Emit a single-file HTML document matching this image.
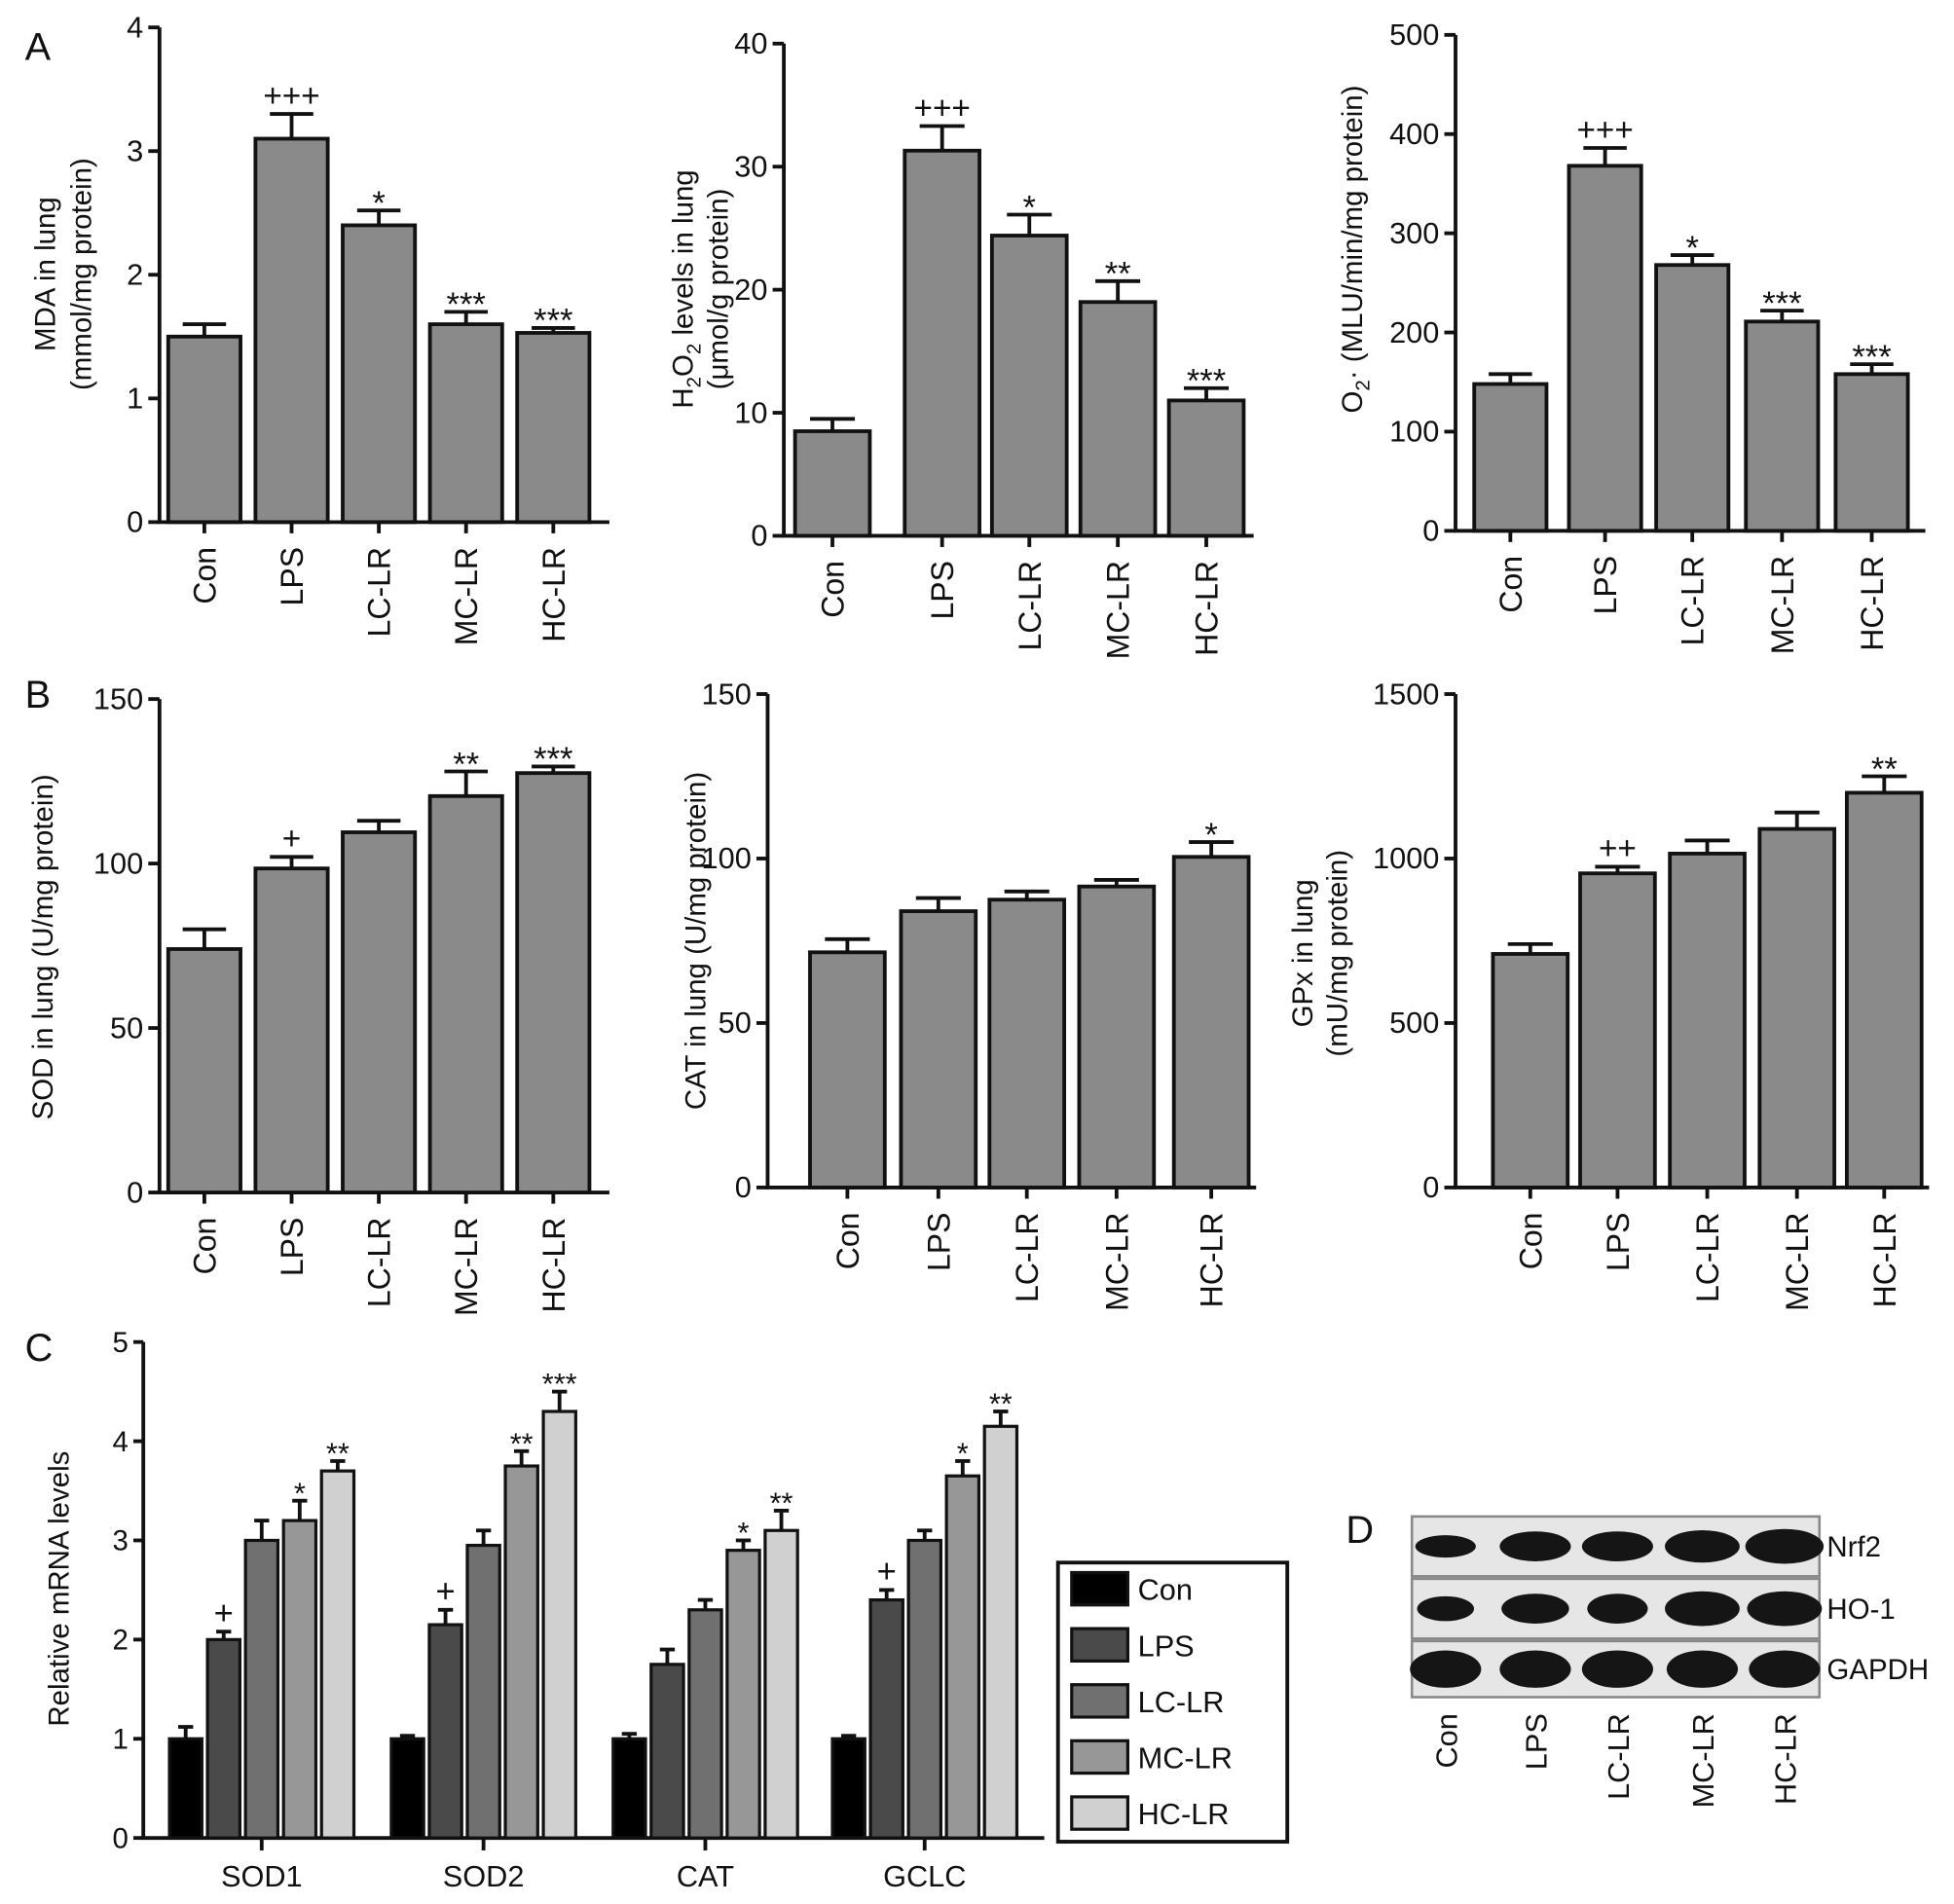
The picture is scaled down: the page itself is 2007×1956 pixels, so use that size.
<!DOCTYPE html>
<html><head><meta charset="utf-8"><style>
html,body{margin:0;padding:0;background:#fff}
svg{display:block}
text{font-family:"Liberation Sans",Arial,sans-serif;fill:#111}
</style></head><body>
<svg id="fig" width="2007" height="1956" viewBox="0 0 1568 1528" preserveAspectRatio="none" xmlns="http://www.w3.org/2000/svg">
<text x="20" y="48" font-size="31">A</text>
<text x="20" y="568" font-size="31">B</text>
<text x="20" y="1092" font-size="31">C</text>
<text x="1080" y="1238" font-size="31">D</text>
</svg>
<script>
const groups = ["Con","LPS","LC-LR","MC-LR","HC-LR"];
const mdaVals = [1.5,3.1,2.4,1.6,1.53];
const mdaErr = [0.1,0.2,0.12,0.1,0.04];
const mdaSig = ["","+++","*","***","***"];
const h2o2Vals = [8.5,31.3,24.4,19,11];
const h2o2Err = [1,2,1.7,1.7,1];
const h2o2Sig = ["","+++","*","**","***"];
const o2Vals = [148,368,268,211,158];
const o2Err = [10,18,10,11,10];
const o2Sig = ["","+++","*","***","***"];
const sodVals = [74,98.5,109.5,120.5,127.5];
const sodErr = [6,3.5,3.5,7.5,2];
const sodSig = ["","+","","**","***"];
const catVals = [71.5,84,87.5,91.5,100.5];
const catErr = [4,4,2.5,2,4.5];
const catSig = ["","","","","*"];
const gpxVals = [710,955,1015,1090,1200];
const gpxErr = [30,20,40,50,50];
const gpxSig = ["","++","","","**"];
const genes = ["SOD1","SOD2","CAT","GCLC"];
const mrnaCon = [1,1,1,1];
const mrnaLps = [2,2.15,1.75,2.4];
const mrnaLc = [3,2.95,2.3,3];
const mrnaMc = [3.2,3.75,2.9,3.65];
const mrnaHc = [3.7,4.3,3.1,4.15];
const mrnaErrCon = [0.12,0.03,0.05,0.03];
const mrnaErrLps = [0.08,0.15,0.15,0.1];
const mrnaErrLc = [0.2,0.15,0.1,0.1];
const mrnaErrMc = [0.2,0.15,0.1,0.15];
const mrnaErrHc = [0.1,0.2,0.2,0.15];
const mrnaSigLps = ["+","+","","+"];
const mrnaSigMc = ["*","**","*","*"];
const mrnaSigHc = ["**","***","**","**"];
const mrnaTicks = [0,1,2,3,4,5];

const NS="http://www.w3.org/2000/svg";
const svg=document.getElementById('fig');
function mk(tag,attrs,parent){const e=document.createElementNS(NS,tag);for(const k in attrs)e.setAttribute(k,attrs[k]);(parent||svg).appendChild(e);return e;}

function barChart(cfg,vals,errs,sigs){
  const g=mk('g',{});
  
  
  const y=v=>cfg.y0-(v-0)/cfg.max*(cfg.y0-cfg.yTop);
  const ax=mk('path',{d:`M${cfg.ax} ${cfg.yTop} V${cfg.y0} H${cfg.axEnd}`,stroke:'#111','stroke-width':3,fill:'none'},g);
  
  
  cfg.ticks.forEach(t=>{
    mk('line',{x1:cfg.ax-9,x2:cfg.ax,y1:y(t),y2:y(t),stroke:'#111','stroke-width':3},g);
    const tl=mk('text',{x:cfg.ax-13,y:y(t)+8,'font-size':24,'text-anchor':'end'},g);
    tl.textContent=t;
    
    
  });
  vals.forEach((v,i)=>{
    const cx=cfg.centers[i], w=cfg.bw;
    const top=y(v), et=y(v+errs[i]);
    mk('line',{x1:cx,x2:cx,y1:top,y2:et,stroke:'#111','stroke-width':3},g);
    mk('line',{x1:cx-w*0.3,x2:cx+w*0.3,y1:et,y2:et,stroke:'#111','stroke-width':3},g);
    const r=mk('rect',{x:cx-w/2,y:top,width:w,height:cfg.y0-top,fill:'#8a8a8a',stroke:'#111','stroke-width':3},g);
    
    
    mk('line',{x1:cx,x2:cx,y1:cfg.y0,y2:cfg.y0+9,stroke:'#111','stroke-width':3},g);
    const lt=mk('text',{transform:`translate(${cx+9},${cfg.y0+20}) rotate(-90)`,'font-size':25,'text-anchor':'end'},g);
    lt.textContent=groups[i];
    
    
    if(sigs[i]){
      const plus=sigs[i][0]==='+';
      const st=mk('text',{x:cx,y:et-(plus?6:-3),'font-size':plus?26:27,'text-anchor':'middle'},g);
      st.textContent=sigs[i];
      
      
    }
  });
  cfg.titles.forEach((t,k)=>{
    const tt=mk('text',{transform:`translate(${t.x},${cfg.titleY}) rotate(-90)`,'font-size':cfg.tfs||23,'text-anchor':'middle'},g);
    tt.innerHTML=t.html;
    
    
  });
}
const cA=[164,234,304,374,444];
barChart({name:'mda-chart',ax:128,axEnd:489,yTop:22,y0:419,max:4,ticks:[0,1,2,3,4],centers:cA,bw:58,titleY:220,
  titles:[{x:44,html:'MDA in lung'},{x:73,html:'(mmol/mg protein)'}]},mdaVals,mdaErr,mdaSig);
barChart({name:'h2o2-chart',ax:629,axEnd:1006,yTop:35,y0:430,max:40,ticks:[0,10,20,30,40],centers:[668,756,826,897,968],bw:60,titleY:232,
  titles:[{x:556,html:'H<tspan font-size="16" dy="6">2</tspan><tspan dy="-6">O</tspan><tspan font-size="16" dy="6">2</tspan><tspan dy="-6"> levels in lung</tspan>'},{x:584,html:'(μmol/g protein)'}]},h2o2Vals,h2o2Err,h2o2Sig);
barChart({name:'o2-chart',ax:1168,axEnd:1545,yTop:28,y0:426,max:500,ticks:[0,100,200,300,400,500],centers:[1212,1288,1358,1430,1502],bw:58,titleY:200,
  titles:[{x:1093,html:'O<tspan font-size="16" dy="6">2</tspan><tspan dy="-6">· (MLU/min/mg protein)</tspan>'}]},o2Vals,o2Err,o2Sig);
barChart({name:'sod-chart',ax:128,axEnd:489,yTop:561,y0:957,max:150,ticks:[0,50,100,150],centers:cA,bw:58,titleY:760,
  titles:[{x:42,html:'SOD in lung (U/mg protein)'}]},sodVals,sodErr,sodSig);
barChart({name:'cat-chart',ax:616,axEnd:1008,yTop:557,y0:953,max:150,ticks:[0,50,100,150],centers:[680,753,824,896,972],bw:60,titleY:755,
  titles:[{x:566,html:'CAT in lung (U/mg protein)'}]},catVals,catErr,catSig);
barChart({name:'gpx-chart',ax:1168,axEnd:1548,yTop:557,y0:953,max:1500,ticks:[0,500,1000,1500],centers:[1228,1298,1370,1442,1512],bw:60,titleY:765,
  titles:[{x:1053,html:'GPx in lung'},{x:1081,html:'(mU/mg protein)'}]},gpxVals,gpxErr,gpxSig);

// Panel C
(function(){
  const g=mk('g',{});
  
  
  const x0=115,yTop=1077,y0=1475,max=5;
  const y=v=>y0-v/max*(y0-yTop);
  const ax=mk('path',{d:`M${x0} ${yTop} V${y0} H838`,stroke:'#111','stroke-width':3,fill:'none'},g);
  
  
  mrnaTicks.forEach(t=>{
    mk('line',{x1:x0-8,x2:x0,y1:y(t),y2:y(t),stroke:'#111','stroke-width':3},g);
    const tl=mk('text',{x:x0-12,y:y(t)+8,'font-size':23,'text-anchor':'end'},g);
    tl.textContent=t;
    
    
  });
  const tt=mk('text',{transform:`translate(55,1275) rotate(-90)`,'font-size':23,'text-anchor':'middle'},g);
  tt.textContent='Relative mRNA levels';
  
  
  const series=[mrnaCon,mrnaLps,mrnaLc,mrnaMc,mrnaHc];
  const errs=[mrnaErrCon,mrnaErrLps,mrnaErrLc,mrnaErrMc,mrnaErrHc];
  const sigs=[null,mrnaSigLps,null,mrnaSigMc,mrnaSigHc];
  const fills=['#000','#4a4a4a','#707070','#979797','#d0d0d0'];
  const gc=[210,388,566,742];
  genes.forEach((gn,gi)=>{
    series.forEach((s,si)=>{
      const cx=gc[gi]+(si-2)*30.5, w=26;
      const top=y(s[gi]), et=y(s[gi]+errs[si][gi]);
      mk('line',{x1:cx,x2:cx,y1:top,y2:et,stroke:'#111','stroke-width':3},g);
      mk('line',{x1:cx-6,x2:cx+6,y1:et,y2:et,stroke:'#111','stroke-width':3},g);
      const r=mk('rect',{x:cx-w/2,y:top,width:w,height:y0-top,fill:fills[si],stroke:'#111','stroke-width':2.5},g);
      
      
      if(sigs[si]&&sigs[si][gi]){
        const plus=sigs[si][gi][0]==='+';
        const st=mk('text',{x:cx,y:et-(plus?6:-2),'font-size':plus?27:24,'text-anchor':'middle'},g);
        st.textContent=sigs[si][gi];
        
        
      }
    });
    mk('line',{x1:gc[gi],x2:gc[gi],y1:y0,y2:y0+10,stroke:'#111','stroke-width':3},g);
    const lt=mk('text',{x:gc[gi],y:y0+39,'font-size':24,'text-anchor':'middle'},g);
    lt.textContent=gn;
    
    
  });
  const lg=mk('g',{},svg);
  
  
  mk('rect',{x:849,y:1254,width:184,height:224,fill:'#fff',stroke:'#111','stroke-width':3},lg);
  groups.forEach((gname,i)=>{
    const yy=1275+i*45;
    mk('rect',{x:860,y:yy-13,width:45,height:26,fill:fills[i],stroke:'#111','stroke-width':2.5},lg);
    const t=mk('text',{x:913,y:yy+9,'font-size':24},lg);
    t.textContent=gname;
    
    
  });
})();

// Panel D blot
(function(){
  const g=mk('g',{});
  
  
  const rows=[[1217,1265,'Nrf2'],[1267,1315,'HO-1'],[1317,1362,'GAPDH']];
  const lanes=[1160,1232,1298,1366,1432];
  const sizes=[[34,9],[40,12],[40,12],[42,13],[44,14]];
  const hoSizes=[[32,10],[38,12],[34,12],[42,14],[42,14]];
  rows.forEach((r,ri)=>{
    mk('rect',{x:1133,y:r[0],width:327,height:r[1]-r[0],fill:'#e6e6e6',stroke:'#888','stroke-width':2},g);
    lanes.forEach((lx,li)=>{
      const sz=ri===0?sizes[li]:ri===1?hoSizes[li]:[40,15];
      const e=mk('ellipse',{cx:lx,cy:(r[0]+r[1])/2,rx:sz[0]/1.4,ry:sz[1],fill:'#151515'},g);
      
      
    });
    const t=mk('text',{x:1466,y:(r[0]+r[1])/2+8,'font-size':23},g);
    t.textContent=r[2];
    
    
  });
  lanes.forEach((lx,li)=>{
    const t=mk('text',{transform:`translate(${lx+9},1375) rotate(-90)`,'font-size':24,'text-anchor':'end'},g);
    t.textContent=groups[li];
    
    
  });
})();
</script>
</body></html>
